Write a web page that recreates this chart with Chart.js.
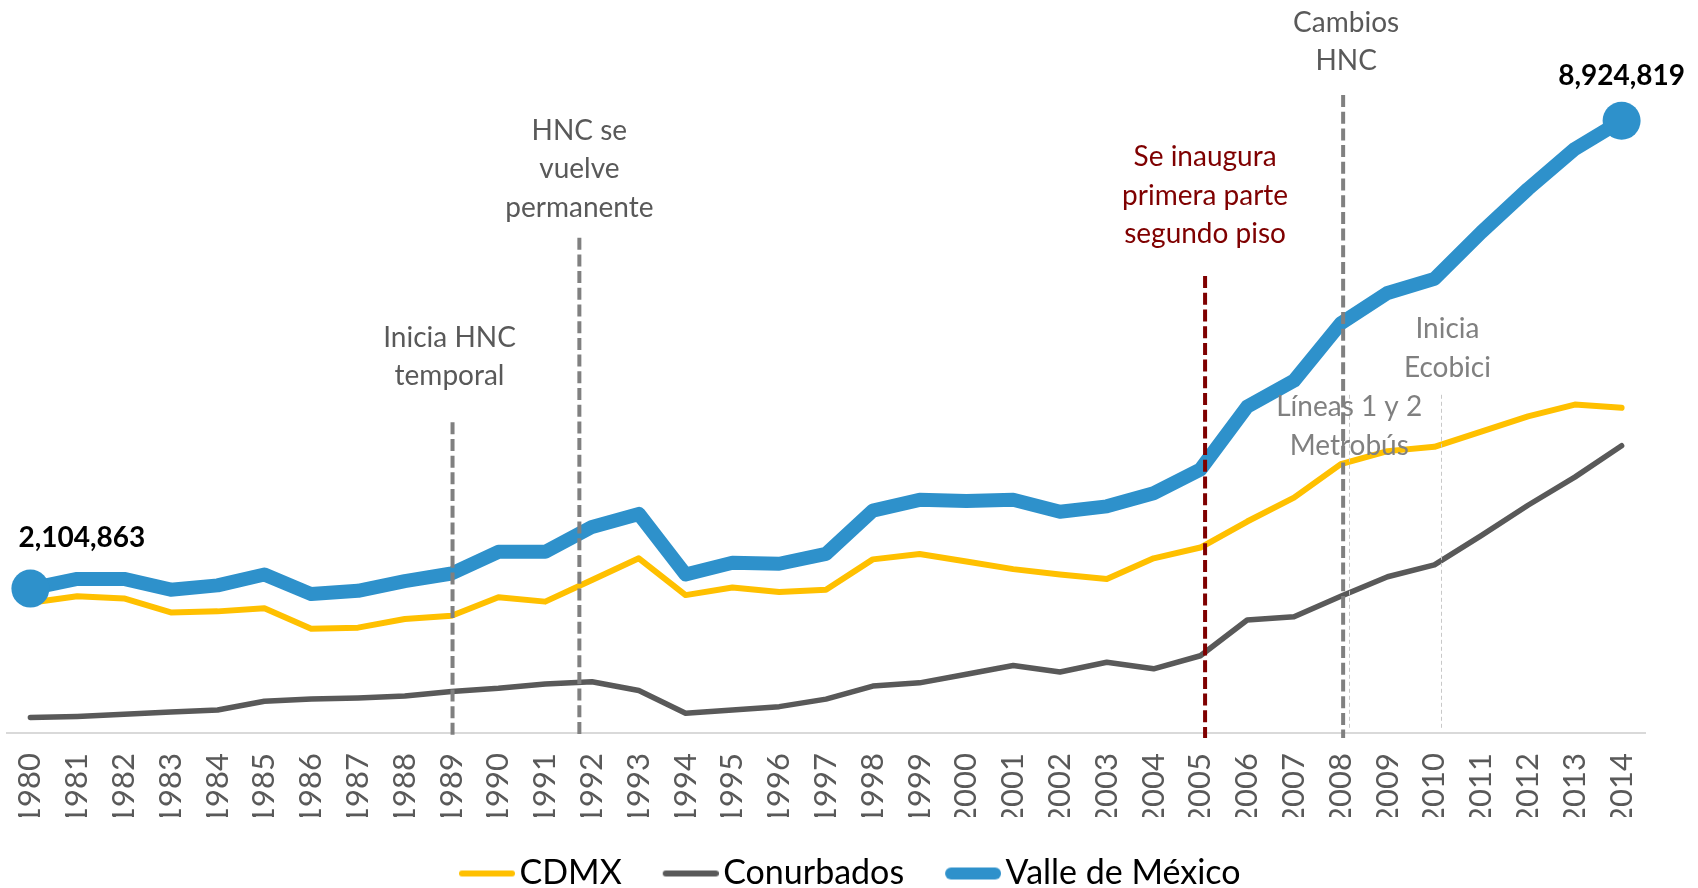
<!DOCTYPE html>
<html>
<head>
<meta charset="utf-8">
<script src="https://cdn.jsdelivr.net/npm/chart.js@4.4.0/dist/chart.umd.min.js"></script>
<style>
  html, body { margin: 0; padding: 0; background: #fff; }
  #wrap { width: 1698px; height: 888px; }
</style>
</head>
<body>
<div id="wrap"><canvas id="myChart" width="1698" height="888"></canvas></div>
<script>
const years = ['1980','1981','1982','1983','1984','1985','1986','1987','1988','1989',
  '1990','1991','1992','1993','1994','1995','1996','1997','1998','1999',
  '2000','2001','2002','2003','2004','2005','2006','2007','2008','2009',
  '2010','2011','2012','2013','2014'];

const cdmx = [1899000, 1994000, 1962000, 1757000, 1773000, 1820000, 1520000, 1536000, 1662000, 1710000,
  1978000, 1915000, 2231000, 2546000, 2010000, 2120000, 2057000, 2089000, 2531000, 2610000,
  2499000, 2389000, 2310000, 2246000, 2546000, 2704000, 3083000, 3431000, 3920000, 4109000,
  4172000, 4394000, 4615000, 4788000, 4741000];

const conurbados = [226000, 242000, 273000, 305000, 336000, 463000, 494000, 510000, 541000, 605000,
  652000, 715000, 747000, 620000, 289000, 336000, 384000, 494000, 684000, 731000,
  857000, 984000, 889000, 1031000, 936000, 1126000, 1647000, 1694000, 1994000, 2278000,
  2452000, 2878000, 3320000, 3730000, 4188000];

const valle = [2104863, 2246000, 2246000, 2089000, 2152000, 2310000, 2025000, 2073000, 2215000, 2325000,
  2641000, 2641000, 3004000, 3194000, 2310000, 2483000, 2467000, 2610000, 3241000, 3399000,
  3383000, 3399000, 3225000, 3304000, 3494000, 3841000, 4757000, 5135000, 5972000, 6414000,
  6620000, 7298000, 7930000, 8514000, 8924819];

const seriesNames = ['CDMX', 'Conurbados', 'Valle de México'];

// event markers: year, where the line starts, text
const events = [
  { year: 1989.02, top: 4530000, gap: 37, kind: 'main', color: '#595959', lines: ['Inicia HNC', 'temporal'], dx: -3 },
  { year: 1991.73, top: 7220000, gap: 21, kind: 'main', color: '#595959', lines: ['HNC se', 'vuelve', 'permanente'], dx: 0 },
  { year: 2005.1, top: 6660000, gap: 33, kind: 'red', color: '#7F0000', lines: ['Se inaugura', 'primera parte', 'segundo piso'] },
  { year: 2008.05, top: 9300000, gap: 25, kind: 'main', color: '#595959', lines: ['Cambios', 'HNC'], dx: 3 },
  { year: 2008.18, top: 4930000, gap: -60, kind: 'thin', color: '#808080', lines: ['Líneas 1 y 2', 'Metrobús'] },
  { year: 2010.15, top: 4930000, gap: 18, kind: 'thin', color: '#808080', lines: ['Inicia', 'Ecobici'], dx: 6 }
];

const colors = ['#FFC000', '#595959', '#2E91CB'];
const widths = [6, 5.5, 14];
const firstYear = Number(years[0]);
const lineGap = 38.5;

function legendSymbol(color, w) {
  const c = document.createElement('canvas');
  c.width = 70;
  c.height = 20;
  const g = c.getContext('2d');
  g.strokeStyle = color;
  g.lineWidth = w;
  g.lineCap = 'round';
  g.beginPath();
  g.moveTo(14 + w / 2, 10);
  g.lineTo(70 - w / 2, 10);
  g.stroke();
  return c;
}

const eventPlugin = {
  id: 'events',
  afterDatasetsDraw(chart) {
    const {ctx, chartArea, scales} = chart;
    const x = scales.x, y = scales.y;
    ctx.save();
    // thin dotted guides
    events.filter(e => e.kind === 'thin').forEach(e => {
      const px = Math.round(x.getPixelForValue(e.year - firstYear)) + 0.5;
      ctx.strokeStyle = '#C8C8C8';
      ctx.lineWidth = 1;
      ctx.setLineDash([4, 3]);
      ctx.beginPath();
      ctx.moveTo(px, y.getPixelForValue(e.top));
      ctx.lineTo(px, chartArea.bottom - 3);
      ctx.stroke();
    });
    // texts
    ctx.setLineDash([]);
    ctx.font = '28px Lato';
    ctx.textAlign = 'center';
    ctx.textBaseline = 'alphabetic';
    events.forEach(e => {
      const px = x.getPixelForValue(e.year - firstYear) + (e.dx || 0);
      const base = y.getPixelForValue(e.top) - e.gap;
      ctx.fillStyle = e.color;
      const n = e.lines.length;
      e.lines.forEach((t, i) => {
        ctx.fillText(t, px, base - (n - 1 - i) * lineGap);
      });
    });
    // dashed event lines
    events.filter(e => e.kind !== 'thin').forEach(e => {
      const px = x.getPixelForValue(e.year - firstYear);
      ctx.strokeStyle = e.kind === 'red' ? '#7F0000' : '#808080';
      ctx.lineWidth = 4;
      ctx.setLineDash([12, 4.7]);
      ctx.beginPath();
      ctx.moveTo(px, y.getPixelForValue(e.top));
      ctx.lineTo(px, chartArea.bottom + 5);
      ctx.stroke();
    });
    ctx.restore();
  }
};

const endLabels = {
  id: 'endLabels',
  afterDatasetsDraw(chart) {
    const {ctx} = chart;
    const meta = chart.getDatasetMeta(2);
    const first = meta.data[0];
    const last = meta.data[meta.data.length - 1];
    ctx.save();
    ctx.font = 'bold 28px Lato';
    ctx.fillStyle = '#000';
    ctx.textBaseline = 'middle';
    ctx.textAlign = 'left';
    ctx.fillText(valle[0].toLocaleString('en-US'), first.x - 12, first.y - 51);
    ctx.textAlign = 'center';
    ctx.fillText(valle[valle.length - 1].toLocaleString('en-US'), last.x, last.y - 45);
    ctx.restore();
  }
};

const seriesData = [cdmx, conurbados, valle];
const datasets = seriesNames.map((name, i) => ({
  label: name,
  data: seriesData[i],
  borderColor: colors[i],
  backgroundColor: colors[i],
  borderWidth: widths[i],
  borderJoinStyle: 'round',
  borderCapStyle: 'round',
  tension: 0,
  fill: false,
  clip: false,
  order: 2 - i,
  pointRadius: i === 2 ? (c => (c.dataIndex === 0 || c.dataIndex === valle.length - 1) ? 19 : 0) : 0,
  pointBorderWidth: 0,
  pointBackgroundColor: colors[i],
  pointHoverRadius: 0
}));

const ctx = document.getElementById('myChart').getContext('2d');
const myChart = new Chart(ctx, {
  type: 'line',
  data: { labels: years, datasets: datasets },
  plugins: [eventPlugin, endLabels],
  options: {
    responsive: false,
    animation: false,
    devicePixelRatio: 1,
    events: [],
    layout: { autoPadding: false, padding: { left: 7, right: 7, top: 47, bottom: 0 } },
    scales: {
      x: {
        offset: true,
        grid: { display: false },
        border: { display: true, color: '#D9D9D9', width: 2 },
        ticks: {
          autoSkip: false,
          minRotation: 90,
          maxRotation: 90,
          padding: 12,
          color: '#595959',
          font: { family: 'Lato', size: 31 }
        },
        afterFit(scale) {
          scale.height = 84;
          scale.paddingLeft = 0;
          scale.paddingRight = 0;
        }
      },
      y: {
        position: 'right',
        min: 0,
        max: 10000000,
        grid: { display: false },
        border: { display: false },
        ticks: { display: false },
        afterFit(scale) {
          scale.width = 46;
          scale.paddingTop = 0;
          scale.paddingBottom = 0;
        }
      }
    },
    plugins: {
      tooltip: { enabled: false },
      legend: {
        position: 'bottom',
        maxHeight: 71,
        labels: {
          usePointStyle: true,
          pointStyleWidth: 45,
          padding: 39.5,
          color: '#595959',
          font: { family: 'Lato', size: 34 },
          generateLabels: chart => chart.data.datasets.map((ds, i) => ({
            text: ds.label,
            fillStyle: ds.borderColor,
            strokeStyle: ds.borderColor,
            lineWidth: 0,
            pointStyle: legendSymbol(ds.borderColor, ds.borderWidth === 14 ? 12 : 6),
            hidden: false,
            datasetIndex: i
          }))
        }
      }
    }
  }
});
</script>
</body>
</html>
